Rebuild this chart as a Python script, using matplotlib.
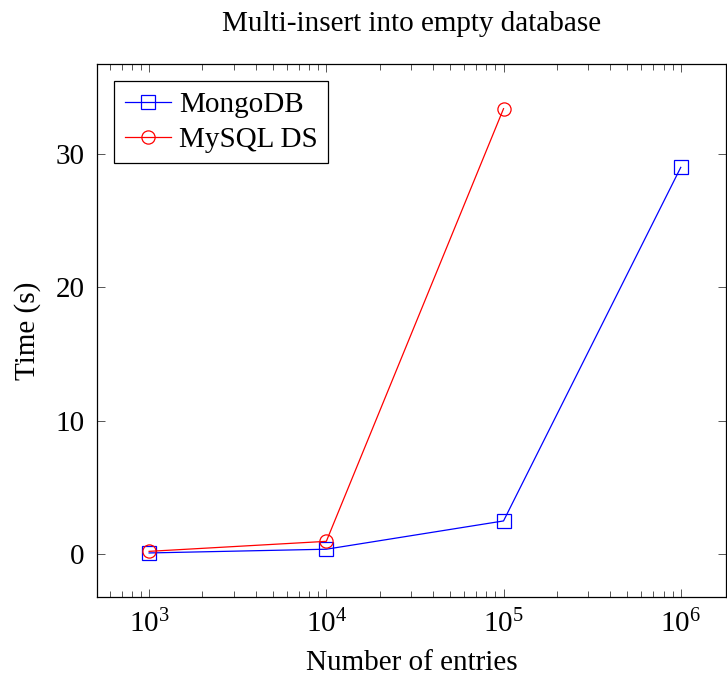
import matplotlib
matplotlib.use("Agg")
import matplotlib.pyplot as plt
from matplotlib.ticker import LogLocator, NullFormatter, FixedLocator

plt.rcParams['font.family'] = ['Liberation Serif', 'DejaVu Serif']
plt.rcParams['mathtext.fontset'] = 'custom'
plt.rcParams['mathtext.rm'] = 'Liberation Serif'
plt.rcParams['mathtext.it'] = 'Liberation Serif:italic'

entries = [1e3, 1e4, 1e5, 1e6]
mongodb = [0.1, 0.38, 2.5, 29.0]
mysql_x = [1e3, 1e4, 1e5]
mysql = [0.22, 0.97, 33.4]

fig = plt.figure(figsize=(7.27, 6.77), dpi=100)
ax = fig.add_axes([0.1334, 0.1182, 0.8652, 0.7873])

ax.plot(entries, mongodb, color='blue', lw=0.9, marker='s', ms=9.5,
        mfc='none', mec='blue', mew=0.9, label='MongoDB')
ax.plot(mysql_x, mysql, color='red', lw=0.9, marker='o', ms=9.5,
        mfc='none', mec='red', mew=0.9, label='MySQL DS')

ax.set_xscale('log')
ax.set_xlim(508, 1.8e6)
ax.set_ylim(-3.2, 36.75)
ax.xaxis.set_major_locator(FixedLocator([1e3, 1e4, 1e5, 1e6]))
ax.set_xticklabels([r'$10^{3}$', r'$10^{4}$', r'$10^{5}$', r'$10^{6}$'])
ax.xaxis.set_minor_locator(LogLocator(base=10, subs=range(2, 10)))
ax.xaxis.set_minor_formatter(NullFormatter())
ax.set_yticks([0, 10, 20, 30])

ax.tick_params(which='both', direction='in', top=True, right=True,
               labelsize=21, color='#555555', width=0.7, pad=9)
ax.tick_params(which='major', length=6)
ax.tick_params(which='minor', length=4)
for s in ax.spines.values():
    s.set_linewidth(0.9)

ax.set_title('Multi-insert into empty database', fontsize=21, pad=24)
ax.set_xlabel('Number of entries', fontsize=21, labelpad=9)
ax.set_ylabel('Time (s)', fontsize=21, labelpad=10)

leg = ax.legend(loc='upper left', fontsize=21, fancybox=False, framealpha=1,
                edgecolor='black', borderaxespad=0.6, handlelength=1.6,
                borderpad=0.35, labelspacing=0.3, handletextpad=0.27)
leg.get_frame().set_linewidth(0.9)

fig.savefig('out.png', dpi=100)
